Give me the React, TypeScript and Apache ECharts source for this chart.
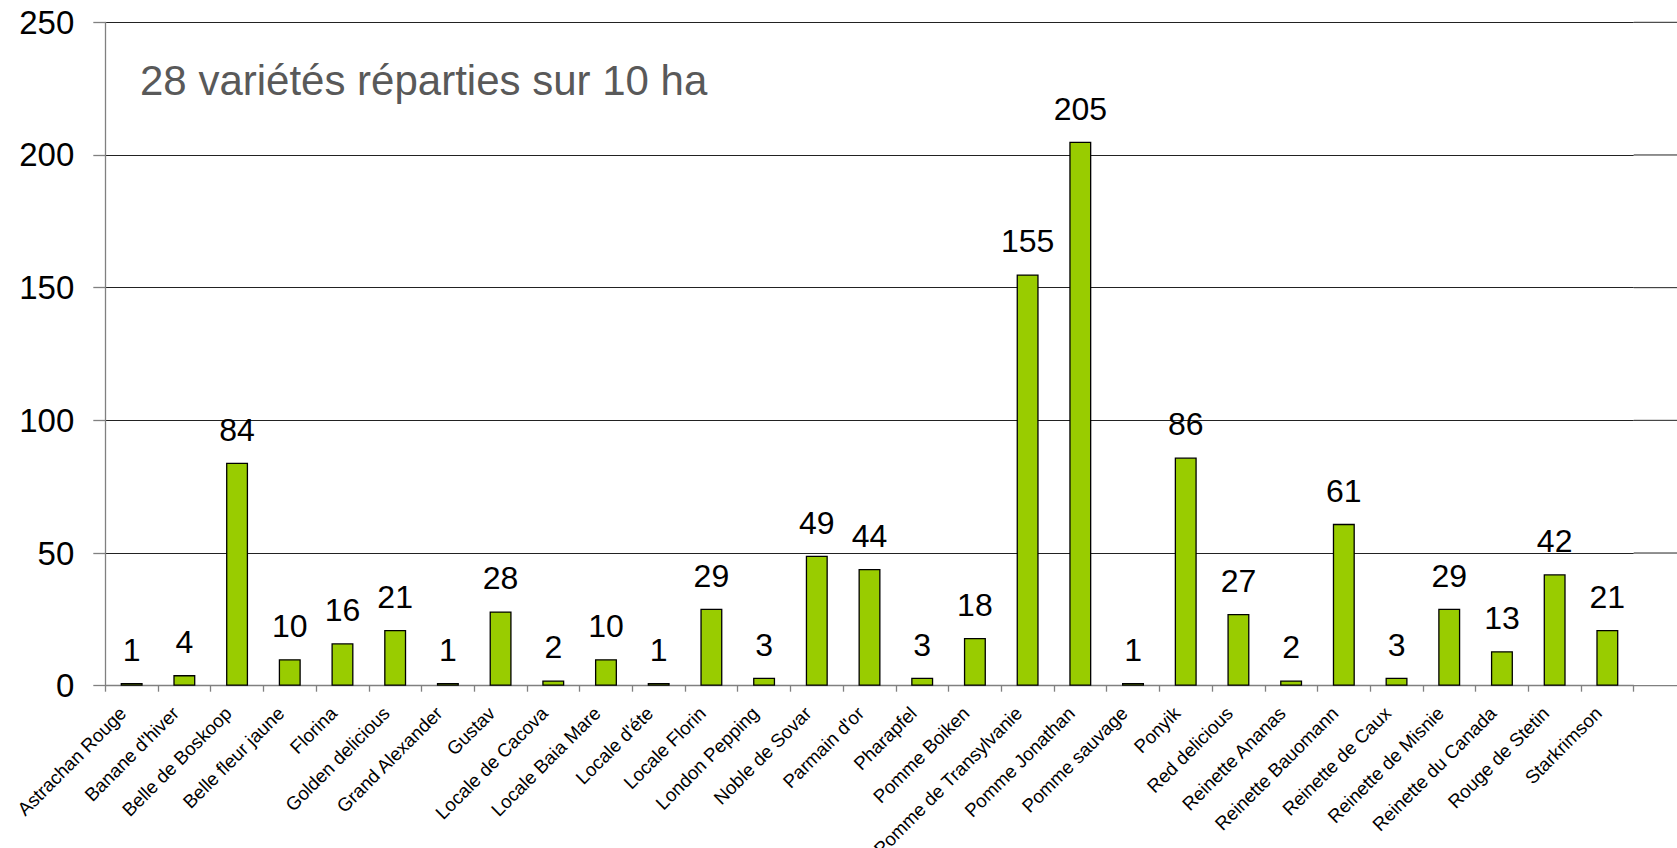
import React, { useEffect, useRef } from "react";
import * as echarts from "echarts";

const categories = [
  "Astrachan Rouge", "Banane d'hiver", "Belle de Boskoop", "Belle fleur jaune", "Florina",
  "Golden delicious", "Grand Alexander", "Gustav", "Locale de Cacova", "Locale Baia Mare",
  "Locale d'éte", "Locale Florin", "London Pepping", "Noble de Sovar", "Parmain d'or",
  "Pharapfel", "Pomme Boiken", "Pomme de Transylvanie", "Pomme Jonathan", "Pomme sauvage",
  "Ponyik", "Red delicious", "Reinette Ananas", "Reinette Bauomann", "Reinette de Caux",
  "Reinette de Misnie", "Reinette du Canada", "Rouge de Stetin", "Starkrimson",
];
const values = [1, 4, 84, 10, 16, 21, 1, 28, 2, 10, 1, 29, 3, 49, 44, 3, 18, 155, 205, 1, 86, 27, 2, 61, 3, 29, 13, 42, 21];
const yTicks = [0, 50, 100, 150, 200, 250];
const subtitle = "28 variétés réparties sur 10 ha";

const W = 1677;
const H = 848;
const GRID = { left: 105.3, right: 43.3, top: 22.3, bottom: 162.3 };
const FONT = "'Liberation Sans', Arial, sans-serif";

export default function App() {
  const ref = useRef<HTMLDivElement>(null);
  useEffect(() => {
    if (!ref.current) return;
    const chart = echarts.init(ref.current, null, { renderer: "svg" });
    chart.setOption({
      animation: false,
      backgroundColor: "#ffffff",
      textStyle: { fontFamily: FONT },
      grid: { ...GRID, containLabel: false, outerBoundsMode: "none" },
      xAxis: {
        type: "category",
        data: categories,
        boundaryGap: true,
        axisLine: { show: true, lineStyle: { color: "#808080", width: 1.3 } },
        axisTick: { show: true, length: 6, alignWithLabel: false, lineStyle: { color: "#808080", width: 1.3 } },
        axisLabel: {
          interval: 0,
          rotate: 45,
          margin: 29,
          fontSize: 18.7,
          verticalAlign: "bottom",
          padding: [0, 3, 0, 0],
          color: "#000",
          fontFamily: FONT,
          hideOverlap: false,
        },
        splitLine: { show: false },
      },
      yAxis: {
        type: "value",
        min: 0,
        max: 250,
        interval: 50,
        axisLine: { show: true, lineStyle: { color: "#808080", width: 1.3 } },
        axisTick: { show: true, length: 12, lineStyle: { color: "#808080", width: 1.3 } },
        axisLabel: { margin: 31, fontSize: 33, color: "#000", fontFamily: FONT },
        splitLine: { show: true, lineStyle: { color: "#222", width: 1 } },
      },
      series: [
        {
          type: "bar",
          data: values,
          barWidth: 22,
          itemStyle: { color: "#99CC00", borderColor: "#000", borderWidth: 1.3 },
          label: {
            show: true,
            position: "top",
            distance: 17,
            fontSize: 32,
            color: "#000",
            fontFamily: FONT,
          },
        },
      ],
    });

    const xRight = W - GRID.right;
    const ext: any[] = yTicks.map((v) => {
      const y = chart.convertToPixel({ yAxisIndex: 0 }, v) as number;
      return {
        type: "line",
        shape: { x1: xRight, y1: y, x2: W, y2: y },
        style: { stroke: v === 0 ? "#808080" : "#222", lineWidth: v === 0 ? 1.3 : 1 },
        silent: true,
      };
    });
    ext.push({
      type: "text",
      x: 140,
      y: 80,
      style: {
        text: subtitle,
        fontSize: 42,
        fontFamily: FONT,
        fill: "#595959",
        verticalAlign: "middle",
        align: "left",
      },
    });
    chart.setOption({ graphic: ext });

    return () => chart.dispose();
  }, []);
  return (
    <div
      ref={ref}
      style={{ position: "absolute", left: 0, top: 0, width: W + "px", height: H + "px" }}
    />
  );
}
